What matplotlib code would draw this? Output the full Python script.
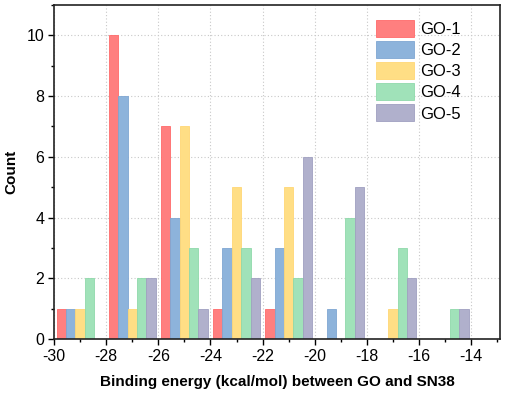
import matplotlib
matplotlib.use("Agg")
import matplotlib.pyplot as plt
import numpy as np
from matplotlib.ticker import MultipleLocator

plt.rcParams['font.family'] = ['Liberation Sans', 'DejaVu Sans']
plt.rcParams['axes.unicode_minus'] = False

bin_starts = [-29.9, -27.9, -25.9, -23.9, -21.9, -19.9, -17.9, -15.9]
series = ["GO-1", "GO-2", "GO-3", "GO-4", "GO-5"]
go1 = [1, 10, 7, 1, 1, 0, 0, 0]
go2 = [1, 8, 4, 3, 3, 1, 0, 0]
go3 = [1, 1, 7, 5, 5, 0, 1, 0]
go4 = [2, 2, 3, 3, 2, 4, 3, 1]
go5 = [0, 2, 1, 2, 6, 5, 2, 1]
values = [go1, go2, go3, go4, go5]
colors = ["#FF7F7F", "#8DB3DB", "#FFDE85", "#A0E2B9", "#B0B0CC"]
edges = ["#FF6A6A", "#7FA6D2", "#FFD775", "#8FD9AA", "#A0A0C0"]

fig = plt.figure(figsize=(5.1, 3.94), dpi=100)
ax = fig.add_axes([0.106, 0.139, 0.874, 0.849])

bw = 0.36
x0 = np.array(bin_starts)
for i, (name, vals) in enumerate(zip(series, values)):
    v = np.array(vals)
    m = v > 0
    ax.bar((x0 + i * bw)[m], v[m], width=bw, align='edge', color=colors[i],
           edgecolor=edges[i], linewidth=0.6, label=name, zorder=2)

ax.set_xlim(-30, -12.9)
ax.set_ylim(0, 11)
ax.xaxis.set_major_locator(MultipleLocator(2))
ax.xaxis.set_minor_locator(MultipleLocator(1))
ax.yaxis.set_major_locator(MultipleLocator(2))
ax.yaxis.set_minor_locator(MultipleLocator(1))
ax.tick_params(which='major', direction='out', length=4, width=1, labelsize=11.5, pad=3)
ax.tick_params(which='minor', direction='out', length=2.5, width=1)
ax.grid(True, which='major', linestyle=(0, (1, 2)), color='#C8C8C8', linewidth=0.8)
ax.set_axisbelow(True)
for s in ax.spines.values():
    s.set_linewidth(1.2)
    s.set_color('#222222')
    s.set_zorder(3)

ax.set_xlabel("Binding energy (kcal/mol) between GO and SN38", fontsize=11, fontweight='bold', labelpad=8)
ax.set_ylabel("Count", fontsize=11, fontweight='bold', labelpad=6)

leg = ax.legend(loc='upper right', bbox_to_anchor=(0.935, 0.985), frameon=False, fontsize=12,
                handlelength=2.3, handleheight=1.2, labelspacing=0.24, handletextpad=0.35,
                borderaxespad=0.2)

fig.savefig("out.png", dpi=100)
